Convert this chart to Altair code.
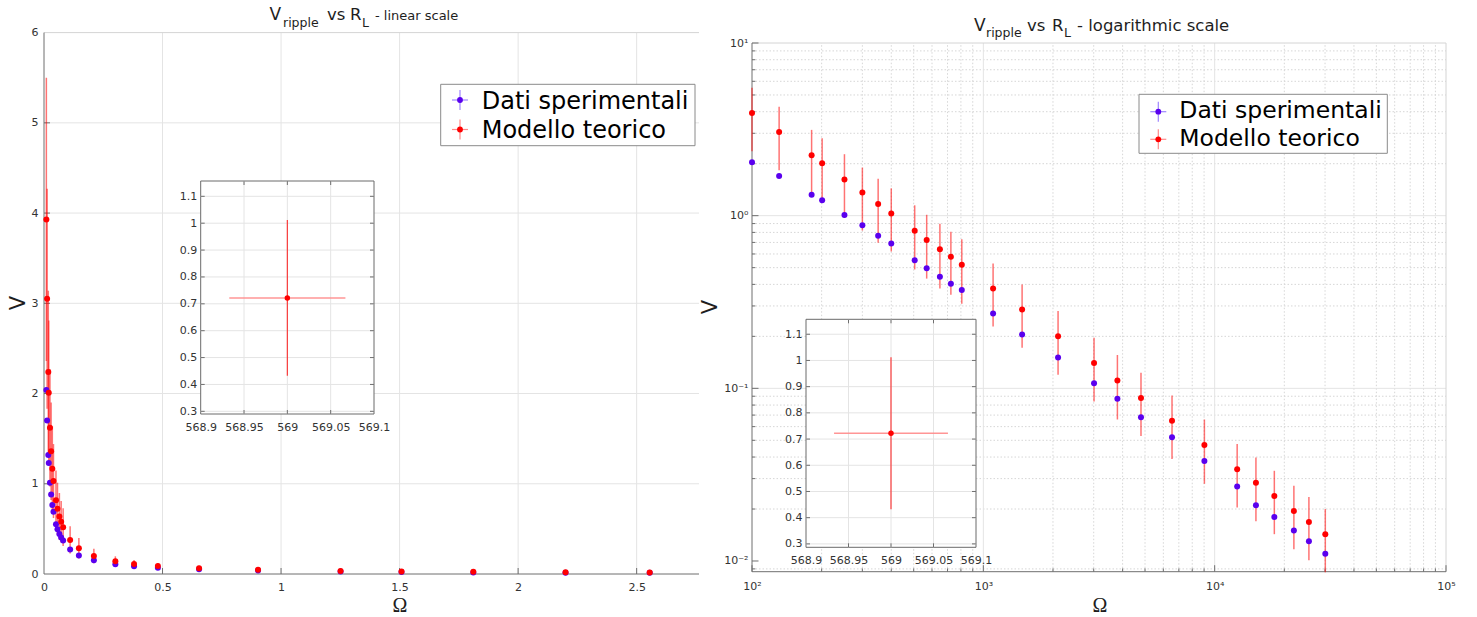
import altair as alt
import pandas as pd

# ---------------- data ----------------
R_OHM = [100, 131, 181, 201, 251, 300, 351, 400, 505, 569, 649, 724, 807, 1102, 1471,
         2104, 3010, 3798, 4803, 6541, 9029, 12510, 15080, 18110, 22000, 25550, 30080]
V_EXP = [2.04, 1.70, 1.32, 1.23, 1.01, 0.88, 0.765, 0.689, 0.552, 0.496, 0.443, 0.404, 0.371,
         0.271, 0.205, 0.151, 0.107, 0.087, 0.068, 0.052, 0.038, 0.027, 0.021, 0.018, 0.015, 0.013, 0.011]
V_MOD = [3.93, 3.05, 2.24, 2.01, 1.62, 1.36, 1.167, 1.03, 0.818, 0.722, 0.638, 0.578, 0.519,
         0.378, 0.286, 0.200, 0.140, 0.111, 0.088, 0.065, 0.047, 0.034, 0.0284, 0.0238, 0.0195, 0.0168, 0.0143]
V_MOD_ERR = [1.57, 1.22, 0.90, 0.80, 0.65, 0.54, 0.47, 0.41, 0.33, 0.29, 0.26, 0.23, 0.21,
             0.15, 0.114, 0.080, 0.056, 0.045, 0.035, 0.026, 0.019, 0.0136, 0.0114, 0.0095, 0.0078, 0.0067, 0.0057]

ZOOM_R = [569.0]
ZOOM_V = [0.722]
ZOOM_R_ERR = [0.067]
ZOOM_V_ERR = [0.29]

LIN_X_UNIT = 1e4

LIN_X_TICKS = [0, 0.5, 1, 1.5, 2, 2.5]
LIN_X_LABELS = ["0", "0.5", "1", "1.5", "2", "2.5"]
LIN_Y_TICKS = [0, 1, 2, 3, 4, 5, 6]
LIN_Y_LABELS = ["0", "1", "2", "3", "4", "5", "6"]
LOG_X_TICKS = [100, 1000, 10000, 100000]
LOG_X_LABELS = ["10²", "10³", "10⁴", "10⁵"]
LOG_Y_TICKS = [0.01, 0.1, 1, 10]
LOG_Y_LABELS = ["10⁻²", "10⁻¹", "10⁰", "10¹"]
LOG_X_MINOR = [200, 300, 400, 500, 600, 700, 800, 900,
               2000, 3000, 4000, 5000, 6000, 7000, 8000, 9000,
               20000, 30000, 40000, 50000, 60000, 70000, 80000, 90000]
LOG_Y_MINOR = [0.009, 0.02, 0.03, 0.04, 0.05, 0.06, 0.07, 0.08, 0.09,
               0.2, 0.3, 0.4, 0.5, 0.6, 0.7, 0.8, 0.9,
               2, 3, 4, 5, 6, 7, 8, 9]
ZOOM_X_TICKS = [568.9, 568.95, 569.0, 569.05, 569.1]
ZOOM_X_LABELS = ["568.9", "568.95", "569", "569.05", "569.1"]
ZOOM_Y_TICKS = [0.3, 0.4, 0.5, 0.6, 0.7, 0.8, 0.9, 1.0, 1.1]
ZOOM_Y_LABELS = ["0.3", "0.4", "0.5", "0.6", "0.7", "0.8", "0.9", "1", "1.1"]

LEGEND_LABELS = ["Dati sperimentali", "Modello teorico"]
TITLE_LIN = ["V", "ripple", "vs", "R", "L", "- linear scale"]
TITLE_LOG = ["V", "ripple", "vs", "R", "L", "- logarithmic scale"]
X_TITLE = "Ω"
Y_TITLE = "V"

# ---------------- layout & style ----------------
W, H = 1477, 617
FONT = "DejaVu Sans"
BLUE = "#5a00ee"
BLUE_LIGHT = "#9f85ff"
RED = "#ff0000"
RED_LIGHT = "#ff8a8a"
GRID = "#e4e4e4"
MINOR = "#d6d6d6"
AXC = "#6f6f6f"
EDGE = "#d4d4d4"
LABC = "#333333"

BOX = {
    "lin": dict(xt="linear", yt="linear", xd=[0, 2.763], yd=[0, 6], xr=[44, 699], yr=[574, 32.6]),
    "log": dict(xt="log", yt="log", xd=[100, 100000], yd=[0.00867, 10], xr=[752, 1446], yr=[571.7, 43]),
    "inL": dict(xt="linear", yt="linear", xd=[568.9, 569.1], yd=[0.29, 1.157], xr=[200.7, 374], yr=[414, 181]),
    "inR": dict(xt="linear", yt="linear", xd=[568.9, 569.1], yd=[0.287, 1.157], xr=[806, 976], yr=[547.3, 319.3]),
}

main = pd.DataFrame({
    "R": R_OHM,
    "Rs": [r / LIN_X_UNIT for r in R_OHM],
    "Vexp": V_EXP,
    "Vmod": V_MOD,
    "lo": [v - e for v, e in zip(V_MOD, V_MOD_ERR)],
    "hi": [v + e for v, e in zip(V_MOD, V_MOD_ERR)],
})
zoom = pd.DataFrame({
    "R": ZOOM_R,
    "V": ZOOM_V,
    "rlo": [r - e for r, e in zip(ZOOM_R, ZOOM_R_ERR)],
    "rhi": [r + e for r, e in zip(ZOOM_R, ZOOM_R_ERR)],
    "vlo": [v - e for v, e in zip(ZOOM_V, ZOOM_V_ERR)],
    "vhi": [v + e for v, e in zip(ZOOM_V, ZOOM_V_ERR)],
})
ONE = alt.Data(values=[{"a": 1}])


def sc(p, c):
    b = BOX[p]
    kw = dict(type=b[c + "t"], domain=b[c + "d"], range=b[c + "r"], nice=False)
    if b[c + "t"] == "linear":
        kw["zero"] = False
    return alt.Scale(**kw)


def fx(p, field, axis=None):
    return alt.X(field, type="quantitative", scale=sc(p, "x"), axis=axis)


def fy(p, field, axis=None):
    return alt.Y(field, type="quantitative", scale=sc(p, "y"), axis=axis)


def xd(p, v):
    return alt.XDatum(v, scale=sc(p, "x"), axis=None)


def yd(p, v):
    return alt.YDatum(v, scale=sc(p, "y"), axis=None)


def lexpr(vals, labels):
    e = "''"
    for v, l in reversed(list(zip(vals, labels))):
        eps = abs(v) * 1e-6 + 1e-12
        e = f"abs(datum.value - {v!r}) <= {eps!r} ? '{l}' : ({e})"
    return e


def xaxis(p, vals, labels, pad, z=0):
    b = BOX[p]
    return alt.Axis(orient="bottom", offset=b["yr"][0] - H, values=vals, labelExpr=lexpr(vals, labels),
                    grid=False, ticks=False, tickSize=0, domain=False, labelFont=FONT, labelFontSize=11,
                    labelColor=LABC, labelPadding=pad, labelFlush=False, labelOverlap=False,
                    title=None, zindex=z)


def yaxis(p, vals, labels, pad, z=0):
    b = BOX[p]
    return alt.Axis(orient="left", offset=-b["xr"][0], values=vals, labelExpr=lexpr(vals, labels),
                    grid=False, ticks=False, tickSize=0, domain=False, labelFont=FONT, labelFontSize=11,
                    labelColor=LABC, labelPadding=pad, labelFlush=False, labelOverlap=False,
                    title=None, zindex=z)


def rule_kw(color, width=1.0, dash=None, opacity=1.0):
    kw = dict(color=color, strokeWidth=width, opacity=opacity)
    if dash:
        kw["strokeDash"] = dash
    return kw


def vlines(p, vals, color, dash=None):
    b = BOX[p]
    return alt.Chart(pd.DataFrame({"v": vals})).mark_rule(**rule_kw(color, 1, dash)).encode(
        x=fx(p, "v"), y=yd(p, b["yd"][0]), y2=alt.Y2Datum(b["yd"][1]))


def hlines(p, vals, color, dash=None):
    b = BOX[p]
    return alt.Chart(pd.DataFrame({"v": vals})).mark_rule(**rule_kw(color, 1, dash)).encode(
        y=fy(p, "v"), x=xd(p, b["xd"][0]), x2=alt.X2Datum(b["xd"][1]))


def hedge(p, which, color):
    b = BOX[p]
    return alt.Chart(ONE).mark_rule(**rule_kw(color)).encode(
        x=xd(p, b["xd"][0]), x2=alt.X2Datum(b["xd"][1]), y=yd(p, b["yd"][which]))


def vedge(p, which, color):
    b = BOX[p]
    return alt.Chart(ONE).mark_rule(**rule_kw(color)).encode(
        y=yd(p, b["yd"][0]), y2=alt.Y2Datum(b["yd"][1]), x=xd(p, b["xd"][which]))


def xticks(p, vals, length, side):
    b = BOX[p]
    base = b["yr"][0] if side == "bottom" else b["yr"][1]
    tip = base - length if side == "bottom" else base + length
    return alt.Chart(pd.DataFrame({"v": vals})).mark_rule(**rule_kw(AXC)).encode(
        x=fx(p, "v"), y=alt.value(base), y2=alt.value(tip))


def yticks(p, vals, length, side):
    b = BOX[p]
    base = b["xr"][0] if side == "left" else b["xr"][1]
    tip = base + length if side == "left" else base - length
    return alt.Chart(pd.DataFrame({"v": vals})).mark_rule(**rule_kw(AXC)).encode(
        y=fy(p, "v"), x=alt.value(base), x2=alt.value(tip))


def text(s, x, y, size, font=FONT, angle=0, align="left", baseline="alphabetic", color="#1e1e1e"):
    return alt.Chart(ONE).mark_text(align=align, baseline=baseline, font=font, fontSize=size,
                                    color=color, angle=angle).encode(
        text=alt.value(s), x=alt.value(x), y=alt.value(y))


def legend(box, mx, rows_y, tx, bases, fs):
    x0, y0, x1, y1 = box
    out = [alt.Chart(ONE).mark_rect(fill="white", stroke="#8a8a8a", strokeWidth=1).encode(
        x=alt.value(x0), x2=alt.value(x1), y=alt.value(y0), y2=alt.value(y1))]
    specs = [(BLUE, BLUE_LIGHT), (RED, RED_LIGHT)]
    for (col, light), ry, by, lab in zip(specs, rows_y, bases, LEGEND_LABELS):
        out.append(alt.Chart(ONE).mark_rule(color=light, strokeWidth=1.2).encode(
            x=alt.value(mx), y=alt.value(ry - 10), y2=alt.value(ry + 10)))
        out.append(alt.Chart(ONE).mark_rule(color=light, strokeWidth=1.2).encode(
            x=alt.value(mx - 8), x2=alt.value(mx + 8), y=alt.value(ry)))
        out.append(alt.Chart(ONE).mark_circle(color=col, size=34, opacity=1).encode(
            x=alt.value(mx), y=alt.value(ry)))
        out.append(text(lab, tx, by, fs, color="#000000"))
    return out


def title(pieces, xs, base, sub_base, sizes):
    out = []
    for s, x, size, is_sub in zip(pieces, xs, sizes, [False, True, False, False, True, False]):
        out.append(text(s, x, sub_base if is_sub else base, size))
    return out


layers = []

# ================= left panel: linear scale =================
p = "lin"
xmax = BOX[p]["xd"][1]
layers += [
    vlines(p, LIN_X_TICKS[1:], GRID),
    hlines(p, LIN_Y_TICKS[1:-1], GRID),
    hedge(p, 1, EDGE),
    hedge(p, 0, AXC),
    vedge(p, 0, AXC),
    xticks(p, LIN_X_TICKS[1:], 6, "bottom"),
    yticks(p, LIN_Y_TICKS[1:-1], 6, "left"),
]
lin_base = alt.Chart(main).transform_filter(alt.datum.Rs <= xmax)
layers += [
    lin_base.mark_rule(color=RED, strokeWidth=1.5, opacity=0.55).encode(
        x=fx(p, "Rs"), y=fy(p, "lo"), y2="hi"),
    lin_base.mark_circle(color=BLUE, size=36, opacity=1).encode(
        x=fx(p, "Rs", xaxis(p, LIN_X_TICKS, LIN_X_LABELS, 7)),
        y=fy(p, "Vexp", yaxis(p, LIN_Y_TICKS, LIN_Y_LABELS, 6))),
    lin_base.mark_circle(color=RED, size=36, opacity=1).encode(
        x=fx(p, "Rs"), y=fy(p, "Vmod")),
]
layers += legend((440.7, 84.3, 695, 145.7), 460, [100, 129.5], 481.7, [109.3, 137.7], 24)

# inset (left)
p = "inL"
b = BOX[p]
layers += [
    alt.Chart(ONE).mark_rect(fill="white", stroke="#6a6a6a", strokeWidth=1).encode(
        x=xd(p, b["xd"][0]), x2=alt.X2Datum(b["xd"][1]), y=yd(p, b["yd"][0]), y2=alt.Y2Datum(b["yd"][1])),
    vlines(p, ZOOM_X_TICKS[1:-1], GRID),
    hlines(p, ZOOM_Y_TICKS, GRID),
    xticks(p, ZOOM_X_TICKS[1:-1], 4, "bottom"),
    xticks(p, ZOOM_X_TICKS[1:-1], 4, "top"),
    yticks(p, ZOOM_Y_TICKS, 4, "left"),
    yticks(p, ZOOM_Y_TICKS, 4, "right"),
    alt.Chart(zoom).mark_rule(color=RED_LIGHT, strokeWidth=1.5, opacity=0.9).encode(
        x=fx(p, "rlo"), x2="rhi", y=fy(p, "V")),
    alt.Chart(zoom).mark_rule(color=RED, strokeWidth=1.2, opacity=0.75).encode(
        x=fx(p, "R"), y=fy(p, "vlo"), y2="vhi"),
    alt.Chart(zoom).mark_circle(color=RED, size=30, opacity=1).encode(
        x=fx(p, "R", xaxis(p, ZOOM_X_TICKS, ZOOM_X_LABELS, 7, z=1)),
        y=fy(p, "V", yaxis(p, ZOOM_Y_TICKS, ZOOM_Y_LABELS, 4, z=1))),
]

# titles (left)
layers += title(TITLE_LIN, [269.5, 283, 327, 350, 362, 375], 20, 26.5, [17, 12.5, 16.5, 16.5, 12.5, 13])
layers += [
    text(Y_TITLE, 24.5, 303, 21, angle=270, align="center"),
    text(X_TITLE, 400, 611.5, 20, font="Liberation Serif", align="center"),
]

# ================= right panel: logarithmic scale =================
p = "log"
layers += [
    vlines(p, LOG_X_MINOR, MINOR, dash=[1.5, 2]),
    hlines(p, LOG_Y_MINOR, MINOR, dash=[1.5, 2]),
    vlines(p, LOG_X_TICKS[1:-1], GRID),
    hlines(p, LOG_Y_TICKS[1:-1], GRID),
    hedge(p, 1, EDGE),
    vedge(p, 1, EDGE),
    hedge(p, 0, AXC),
    vedge(p, 0, AXC),
    xticks(p, LOG_X_TICKS, 6.5, "bottom"),
    xticks(p, LOG_X_MINOR, 3.3, "bottom"),
    yticks(p, LOG_Y_TICKS, 6.5, "left"),
    yticks(p, LOG_Y_MINOR, 3.3, "left"),
]
log_base = alt.Chart(main)
layers += [
    log_base.mark_rule(color=RED, strokeWidth=1.5, opacity=0.55).encode(
        x=fx(p, "R"), y=fy(p, "lo"), y2="hi"),
    log_base.mark_circle(color=BLUE, size=36, opacity=1).encode(
        x=fx(p, "R", xaxis(p, LOG_X_TICKS, LOG_X_LABELS, 9)),
        y=fy(p, "Vexp", yaxis(p, LOG_Y_TICKS, LOG_Y_LABELS, 4))),
    log_base.mark_circle(color=RED, size=36, opacity=1).encode(
        x=fx(p, "R"), y=fy(p, "Vmod")),
]
layers += legend((1139, 94.3, 1387.3, 153.3), 1158.3, [111.7, 139.3], 1179.3, [118.3, 146], 23.5)

# inset (right)
p = "inR"
b = BOX[p]
layers += [
    alt.Chart(ONE).mark_rect(fill="white", stroke="#6a6a6a", strokeWidth=1).encode(
        x=xd(p, b["xd"][0]), x2=alt.X2Datum(b["xd"][1]), y=yd(p, b["yd"][0]), y2=alt.Y2Datum(b["yd"][1])),
    vlines(p, ZOOM_X_TICKS[1:-1], GRID),
    hlines(p, ZOOM_Y_TICKS, GRID),
    xticks(p, ZOOM_X_TICKS[1:-1], 4, "bottom"),
    xticks(p, ZOOM_X_TICKS[1:-1], 4, "top"),
    yticks(p, ZOOM_Y_TICKS, 4, "left"),
    yticks(p, ZOOM_Y_TICKS, 4, "right"),
    alt.Chart(zoom).mark_rule(color=RED_LIGHT, strokeWidth=1.5, opacity=0.9).encode(
        x=fx(p, "rlo"), x2="rhi", y=fy(p, "V")),
    alt.Chart(zoom).mark_rule(color=RED, strokeWidth=1.2, opacity=0.75).encode(
        x=fx(p, "R"), y=fy(p, "vlo"), y2="vhi"),
    alt.Chart(zoom).mark_circle(color=RED, size=30, opacity=1).encode(
        x=fx(p, "R", xaxis(p, ZOOM_X_TICKS, ZOOM_X_LABELS, 7, z=1)),
        y=fy(p, "V", yaxis(p, ZOOM_Y_TICKS, ZOOM_Y_LABELS, 4, z=1))),
]

# titles (right)
layers += title(TITLE_LOG, [974, 986, 1027, 1052, 1064, 1077], 30.7, 37, [17, 12.5, 16.5, 16.5, 12.5, 16.5])
layers += [
    text(Y_TITLE, 716.5, 307, 21, angle=270, align="center"),
    text(X_TITLE, 1100, 611.5, 20, font="Liberation Serif", align="center"),
]

chart = alt.layer(*layers).resolve_scale(
    x="independent", y="independent"
).properties(
    width=W, height=H, autosize=alt.AutoSizeParams(type="none"), padding=0, background="white"
).configure_view(stroke="transparent")

chart.save("out.html", embed_options={"renderer": "svg", "actions": False})
